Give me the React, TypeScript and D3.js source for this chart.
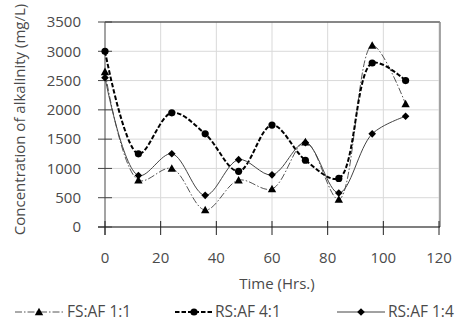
import React from "react";
import * as d3 from "d3";

const times = [0, 12, 24, 36, 48, 60, 72, 84, 96, 108];
const fs11 = [2650, 800, 1000, 290, 800, 650, 1450, 470, 3100, 2100];
const rs41 = [3000, 1250, 1950, 1590, 950, 1740, 1140, 830, 2800, 2500];
const rs14 = [2550, 880, 1250, 540, 1150, 890, 1440, 580, 1590, 1890];
const xTicks = [0, 20, 40, 60, 80, 100, 120];
const yTicks = [0, 500, 1000, 1500, 2000, 2500, 3000, 3500];
const seriesNames = ["FS:AF 1:1", "RS:AF 4:1", "RS:AF 1:4"];

const W = 463, H = 332;
const L = 105, R = 439, T = 22, B = 227;
const font = "'Open Sans', sans-serif";
const txt = "#4a4a4a";

function Marker({ kind, x, y }: { kind: string; x: number; y: number }) {
  if (kind === "tri") {
    const s = 4.2;
    return <path d={`M${x},${y - s}L${x + s},${y + s * 0.8}L${x - s},${y + s * 0.8}Z`} fill="#000" />;
  }
  if (kind === "circ") return <circle cx={x} cy={y} r={3.6} fill="#000" />;
  const s = 3.8;
  return <path d={`M${x},${y - s}L${x + s},${y}L${x},${y + s}L${x - s},${y}Z`} fill="#000" />;
}

export default function App() {
  const x = d3.scaleLinear().domain([0, 120]).range([L, R]);
  const y = d3.scaleLinear().domain([0, 3500]).range([B, T]);
  const line = d3
    .line<number>()
    .x((_, i) => x(times[i]))
    .y((d) => y(d))
    .curve(d3.curveCatmullRom.alpha(0.5));

  const series = [
    { name: seriesNames[0], data: fs11, kind: "tri", dash: "7,2,1.5,2", w: 1, color: "#555" },
    { name: seriesNames[1], data: rs41, kind: "circ", dash: "4.5,2", w: 2, color: "#000" },
    { name: seriesNames[2], data: rs14, kind: "dia", dash: "", w: 1, color: "#444" },
  ];

  const legendPos = [
    { x0: 15, x1: 63, tx: 67 },
    { x0: 175, x1: 213, tx: 215 },
    { x0: 337, x1: 385, tx: 388 },
  ];
  const ly = 312;

  return (
    <svg width={W} height={H} style={{ position: "absolute", left: 0, top: 0, background: "#fff" }}>
      {xTicks.filter((t) => t > 0).map((t) => (
        <line key={"gx" + t} x1={x(t)} x2={x(t)} y1={T} y2={B} stroke="#d9d9d9" strokeWidth={1} />
      ))}
      {yTicks.filter((t) => t > 0).map((t) => (
        <line key={"gy" + t} x1={L} x2={R} y1={y(t)} y2={y(t)} stroke="#d9d9d9" strokeWidth={1} />
      ))}
      <line x1={L} x2={R + 1} y1={T} y2={T} stroke="#222" strokeWidth={1} />
      <line x1={R + 1} x2={R + 1} y1={T} y2={B} stroke="#888" strokeWidth={1.5} />
      <line x1={L} x2={L} y1={T} y2={B + 8} stroke="#666" strokeWidth={1.2} />
      <line x1={L - 7} x2={R + 1} y1={B} y2={B} stroke="#000" strokeWidth={1.2} />
      {yTicks.map((t) => (
        <g key={"yt" + t}>
          <line x1={L - 7} x2={L + 7} y1={y(t)} y2={y(t)} stroke="#444" strokeWidth={1} />
          <text x={L - 24} y={y(t)} dy="0.35em" textAnchor="end" fontFamily={font} fontSize={15} fill={txt}>
            {t}
          </text>
        </g>
      ))}
      {xTicks.map((t) => (
        <g key={"xt" + t}>
          <line x1={x(t)} x2={x(t)} y1={B - 6} y2={B + 8} stroke="#222" strokeWidth={1} />
          <text x={x(t)} y={263} textAnchor="middle" fontFamily={font} fontSize={15} fill={txt}>
            {t}
          </text>
        </g>
      ))}
      <text x={(L + R) / 2 + 5} y={289} textAnchor="middle" fontFamily={font} fontSize={15} fill={txt}>
        Time (Hrs.)
      </text>
      <text
        transform={`translate(25, ${(T + B) / 2 - 5}) rotate(-90)`}
        textAnchor="middle"
        fontFamily={font}
        fontSize={15}
        fill={txt}
      >
        Concentration of alkalinity (mg/L)
      </text>
      {series.map((s) => (
        <g key={s.name}>
          <path d={line(s.data) || ""} fill="none" stroke={s.color} strokeWidth={s.w} strokeDasharray={s.dash || undefined} />
          {s.data.map((v, i) => (
            <Marker key={i} kind={s.kind} x={x(times[i])} y={y(v)} />
          ))}
        </g>
      ))}
      {series.map((s, i) => {
        const p = legendPos[i];
        return (
          <g key={"lg" + i}>
            <line x1={p.x0} x2={p.x1} y1={ly} y2={ly} stroke={s.color} strokeWidth={s.w} strokeDasharray={s.dash || undefined} />
            <Marker kind={s.kind} x={(p.x0 + p.x1) / 2} y={ly} />
            <text x={p.tx} y={ly} dy="0.35em" fontFamily={font} fontSize={15.5} fill={txt}>
              {s.name}
            </text>
          </g>
        );
      })}
    </svg>
  );
}
